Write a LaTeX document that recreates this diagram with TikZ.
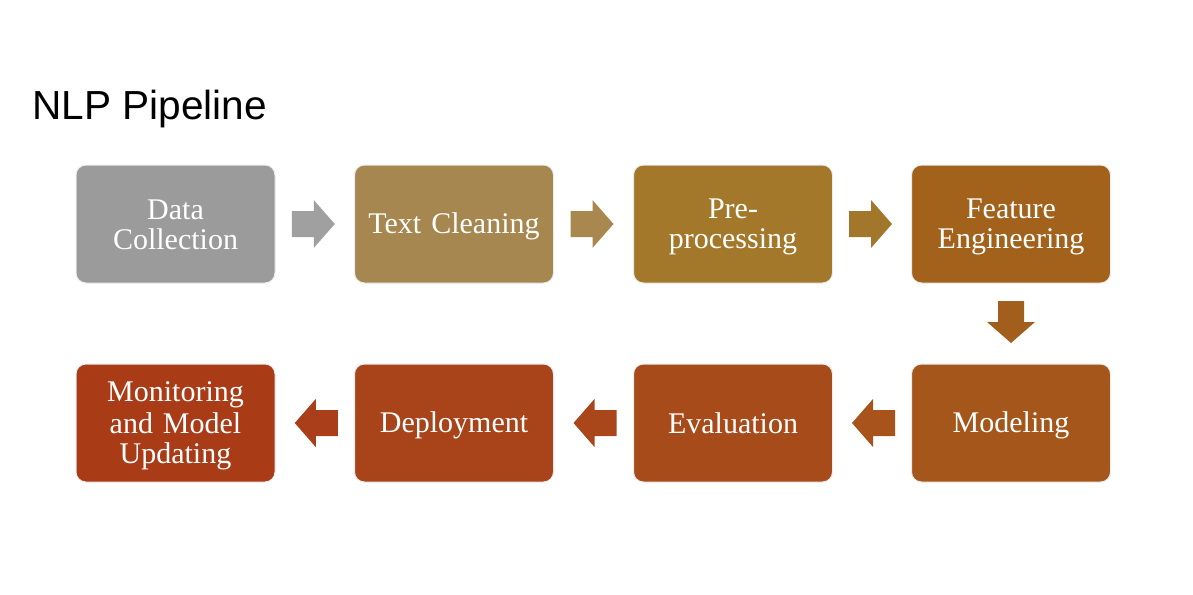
\documentclass[tikz,border=0pt]{standalone}
\usepackage{fontspec}
\setmainfont{Liberation Serif}
\newfontfamily\titlefont{Liberation Sans}
\usetikzlibrary{calc}
\newcommand{\ls}{\rule[-5pt]{0pt}{30pt}}
\definecolor{c1}{HTML}{9B9B9B}
\definecolor{c2}{HTML}{A5874F}
\definecolor{c3}{HTML}{A3782B}
\definecolor{c4}{HTML}{A2621C}
\definecolor{c5}{HTML}{A5571B}
\definecolor{c6}{HTML}{A74B1A}
\definecolor{c7}{HTML}{A8431A}
\definecolor{c8}{HTML}{AA3B17}
\definecolor{a1}{HTML}{A0A0A0}
\definecolor{a2}{HTML}{A8884F}
\definecolor{a3}{HTML}{A2762B}
\definecolor{a4}{HTML}{A15E1D}
\definecolor{a5}{HTML}{A8521C}
\definecolor{a6}{HTML}{A9461A}
\definecolor{a7}{HTML}{AB3E1A}
\tikzset{
  stage/.style={rectangle, rounded corners=10pt, draw=black!8, line width=1pt,
    fill=#1, minimum width=199pt, minimum height=118pt, inner sep=2pt,
    text=white, align=center, text width=190pt,
    font=\fontsize{30}{30}\selectfont},
  rightarrow/.pic={\fill[pic actions] (-21.5,-13) -- (0.5,-13) -- (0.5,-24) -- (21.5,0)
     -- (0.5,24) -- (0.5,13) -- (-21.5,13) -- cycle;},
  downarrow/.pic={\fill[pic actions] (-13,-21) -- (-13,0) -- (-24,0) -- (0,21)
     -- (24,0) -- (13,0) -- (13,-21) -- cycle;},
}
\begin{document}
\begin{tikzpicture}[x=1pt,y=-1pt]
\useasboundingbox (0,0) rectangle (1193,594);
\node[anchor=base west, inner sep=0pt, font=\titlefont\fontsize{40.6}{40}\selectfont] (title) at (32,119) {NLP Pipeline};
\node[stage=c1] (s1) at (175.5,224) {\ls Data\\\ls Collection};
\node[stage=c2] (s2) at (454,224) {\ls Text Cleaning};
\node[stage=c3] (s3) at (733,224) {\ls Pre-\\\ls processing};
\node[stage=c4] (s4) at (1011,224) {\ls Feature\\\ls Engineering};
\node[stage=c5] (s5) at (1011,423) {\ls Modeling};
\node[stage=c6] (s6) at (733,423) {\ls Evaluation};
\node[stage=c7] (s7) at (454,423) {\ls Deployment};
\node[stage=c8] (s8) at (175.5,423) {\ls Monitoring\\\ls and Model\\\ls Updating};
\coordinate (m1) at ($(s1.east)!0.5!(s2.west)+(-1.5,0)$);
\coordinate (m2) at ($(s2.east)!0.5!(s3.west)+(-1.5,0)$);
\coordinate (m3) at ($(s3.east)!0.5!(s4.west)+(-1.5,0)$);
\coordinate (m4) at ($(s4.south)!0.5!(s5.north)+(0,-1.5)$);
\coordinate (m5) at ($(s5.west)!0.5!(s6.east)+(1.5,0)$);
\coordinate (m6) at ($(s6.west)!0.5!(s7.east)+(1.5,0)$);
\coordinate (m7) at ($(s7.west)!0.5!(s8.east)+(1.5,0)$);
\pic[fill=a1] at (m1) {rightarrow};
\pic[fill=a2] at (m2) {rightarrow};
\pic[fill=a3] at (m3) {rightarrow};
\pic[fill=a4] at (m4) {downarrow};
\pic[fill=a5, xscale=-1] at (m5) {rightarrow};
\pic[fill=a6, xscale=-1] at (m6) {rightarrow};
\pic[fill=a7, xscale=-1] at (m7) {rightarrow};
\end{tikzpicture}
\end{document}
